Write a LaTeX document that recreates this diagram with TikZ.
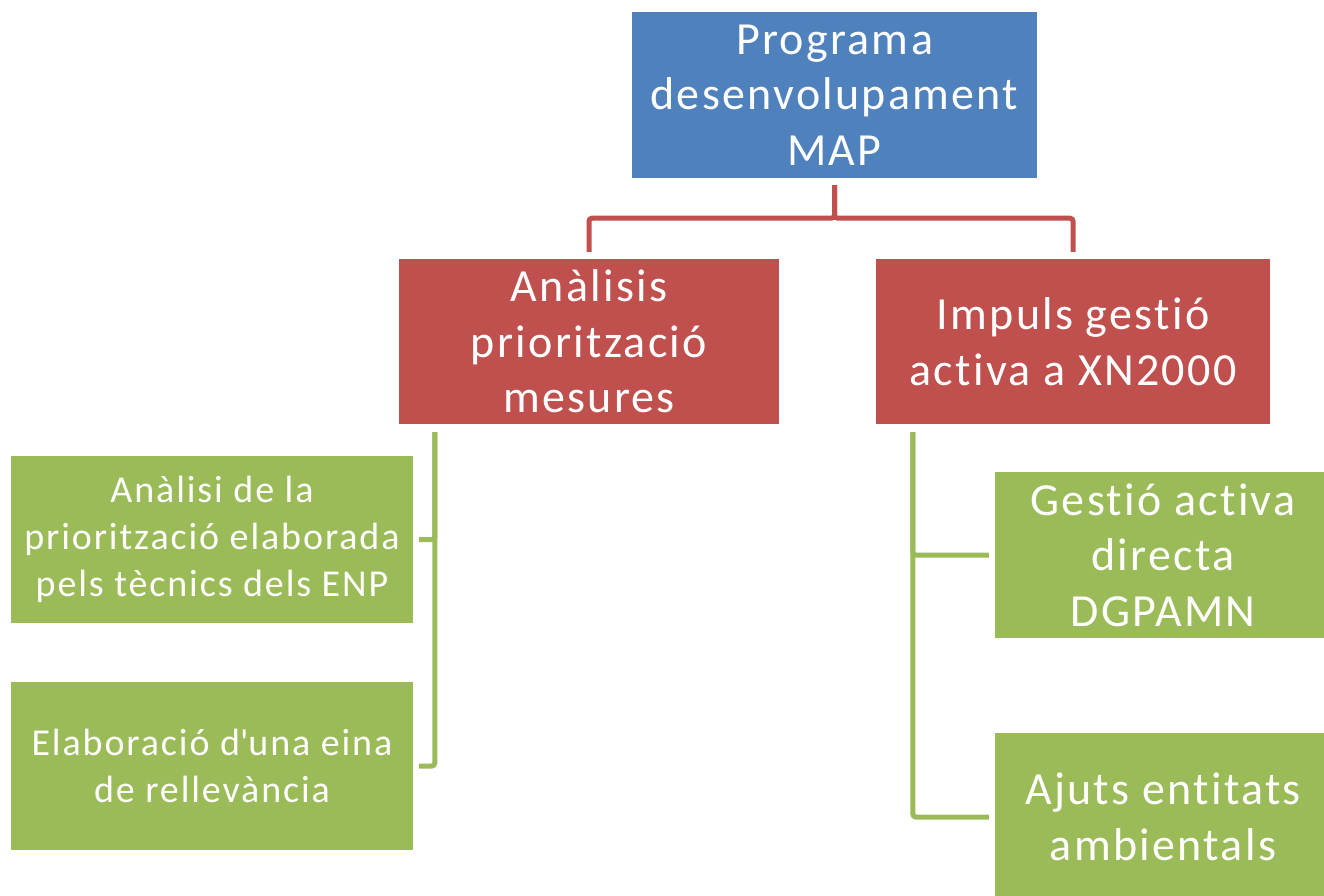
\documentclass[tikz,border=0pt]{standalone}
\usepackage{fontspec}
\setmainfont{Carlito}[LetterSpace=5, Ligatures=NoCommon]
\definecolor{pblue}{HTML}{4F81BD}
\definecolor{pred}{HTML}{C0504D}
\definecolor{pgreen}{HTML}{9BBB59}
\tikzset{
  box/.style={fill=#1, text=white, inner sep=0pt, align=center},
  bigtxt/.style={font=\fontsize{46}{55.5}\selectfont},
  smalltxt/.style={font=\fontsize{38}{47}\selectfont},
  redline/.style={draw=pred, line width=5pt, rounded corners=3pt},
  greenline/.style={draw=pgreen, line width=5pt, rounded corners=3pt},
}

\begin{document}
\begin{tikzpicture}[x=1pt, y=-1pt]

		\useasboundingbox (0,0) rectangle (1324,896);

		% Top box
		\node[box=pblue, bigtxt, minimum width=405pt, minimum height=166pt] (prog) at (834.5,95) {Programa\\desenvolupament\\MAP};

		% Second level
		\node[box=pred, bigtxt, minimum width=380pt, minimum height=165pt] (anal) at (589,341.5) {Anàlisis\\priorització\\mesures};
		\node[box=pred, bigtxt, minimum width=394pt, minimum height=165pt] (impuls) at (1073,341.5) {Impuls gestió\\activa a XN2000};

		% Left leaves
		\node[box=pgreen, smalltxt, minimum width=402pt, minimum height=167pt] (prior) at (212,539.5) {Anàlisi de la\\priorització elaborada\\pels tècnics dels ENP};
		\node[box=pgreen, smalltxt, minimum width=402pt, minimum height=168pt] (eina) at (212,766) {Elaboració d\textquotesingle una eina\\de rellevància};

		% Right leaves
		\node[box=pgreen, bigtxt, minimum width=336pt, minimum height=166pt] (gest) at (1163,555) {Gestió activa\\directa\\DGPAMN};
		\node[box=pgreen, bigtxt, minimum width=336pt, minimum height=168pt] (ajuts) at (1163,817) {Ajuts entitats\\ambientals};

		% Red connectors
		\draw[redline, shorten <=7pt, shorten >=7pt] (prog.south) -- ++(0,40) -| (anal.north);
		\draw[redline, shorten <=7pt, shorten >=7pt] (prog.south) -- ++(0,40) -| (impuls.north);

		% Green connectors
		\coordinate (al) at ([shift={(36,8)}]anal.south west);
		\coordinate (il) at ([shift={(37,8)}]impuls.south west);
		\draw[greenline, shorten >=6pt] (al) |- (prior.east);
		\draw[greenline, shorten >=6pt] (al) |- (eina.east);
		\draw[greenline, shorten >=6pt] (il) |- (gest.west);
		\draw[greenline, shorten >=6pt] (il) |- (ajuts.west);

	\end{tikzpicture}
\end{document}
